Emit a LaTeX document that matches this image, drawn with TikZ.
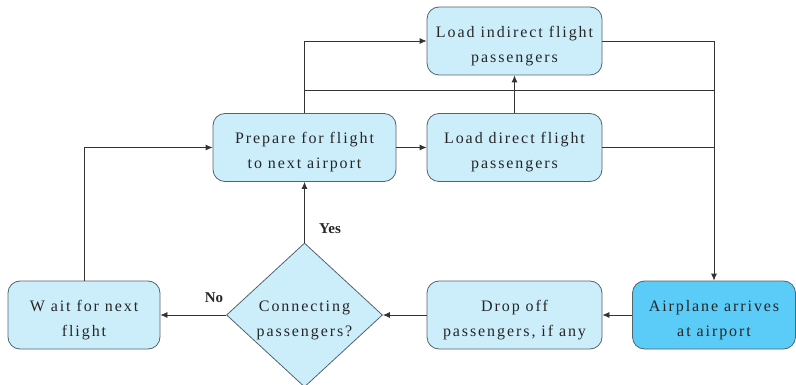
\documentclass[tikz,border=0pt]{standalone}
\usepackage{fontspec}
\setmainfont{Liberation Serif}
\newfontfamily\boxfont[LetterSpace=12]{Liberation Serif}
\usetikzlibrary{arrows.meta,shapes.geometric}
\definecolor{lightfill}{HTML}{CCEEFB}
\definecolor{darkfill}{HTML}{5BCBF8}
\definecolor{edgegray}{HTML}{56626C}
\definecolor{linegray}{HTML}{333333}
\begin{document}
\begin{tikzpicture}[x=1pt,y=-1pt,
  txt/.style={align=center, inner sep=0pt, font=\boxfont\fontsize{16}{25}\selectfont, text=black!85},
  box/.style={draw=edgegray, line width=0.8pt, fill=lightfill, rounded corners=12pt,
    minimum height=68pt, inner sep=0pt},
  decision/.style={draw=edgegray, line width=0.8pt, fill=lightfill, shape=diamond,
    minimum width=156pt, minimum height=144pt, inner sep=0pt},
  conn/.style={draw=linegray, line width=0.8pt},
  arr/.style={conn, -{Latex[length=7pt,width=6pt]}},
  lbl/.style={font=\bfseries\fontsize{15}{18}\selectfont, text=black!85}]
\useasboundingbox (0,0) rectangle (796,385);
\node[box, minimum width=175pt, label={[txt,yshift=-5pt]center:Load indirect flight\\passengers}] (indirect) at (514.5,41) {};
\node[box, minimum width=183pt, label={[txt,yshift=-5pt]center:Prepare for flight\\to next airport}] (prepare) at (304.5,147.5) {};
\node[box, minimum width=175pt, label={[txt,yshift=-5pt]center:Load direct flight\\passengers}] (direct) at (514.5,147.5) {};
\node[box, minimum width=152pt, label={[txt,yshift=-5pt]center:W ait for next\\flight}] (wait) at (84,315) {};
\node[box, minimum width=175pt, label={[txt,yshift=-5pt]center:Drop off\\passengers, if any}] (drop) at (514.5,315) {};
\node[box, minimum width=163pt, fill=darkfill, label={[txt,yshift=-5pt]center:Airplane arrives\\at airport}] (arrive) at (714,315) {};
\node[decision, label={[txt,yshift=-5.5pt]center:Connecting\\passengers?}] (dia) at (304.5,315) {};
\node[lbl] (yes) at (330,229) {Yes};
\node[lbl] (no) at (214,298) {No};
\coordinate (top) at (714,41);
\coordinate (j1) at (304.5,90);
\coordinate (j2) at (714,90);
\coordinate (mid) at (714,147.5);
\draw[arr] (prepare.north) |- (indirect.west);
\draw[conn] (j1) -- (j2);
\draw[conn] (indirect.east) -- (top);
\draw[conn] (direct.east) -- (mid);
\draw[arr] (top) -- (arrive.north);
\draw[arr] (direct.north) -- (indirect.south);
\draw[arr] (prepare.east) -- (direct.west);
\draw[arr] (arrive.west) -- (drop.east);
\draw[arr] (drop.west) -- (dia.east);
\draw[arr] (dia.north) -- (prepare.south);
\draw[arr] (dia.west) -- (wait.east);
\draw[arr] (wait.north) |- (prepare.west);
\end{tikzpicture}
\end{document}
